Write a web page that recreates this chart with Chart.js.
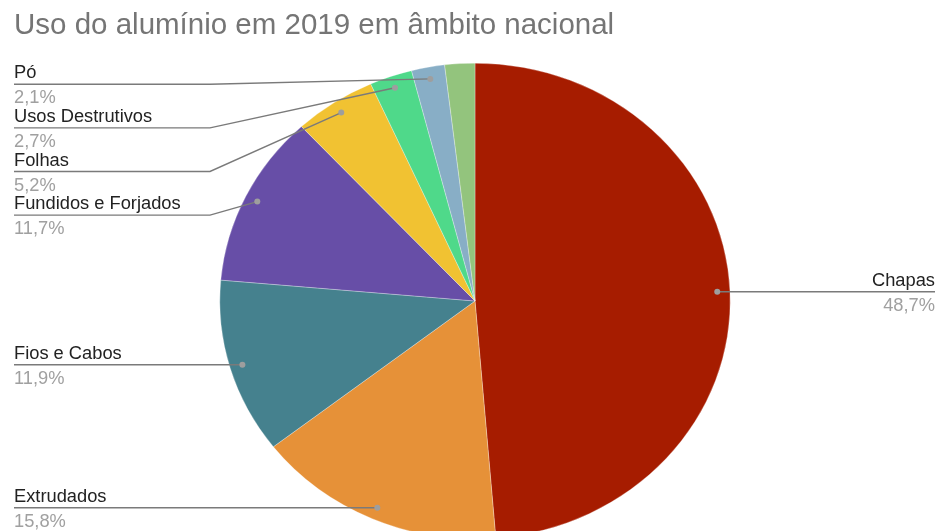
<!DOCTYPE html>
<html><head><meta charset="utf-8">
<script src="https://cdn.jsdelivr.net/npm/chart.js@4"></script>
<style>
html,body{margin:0;padding:0;background:#fff;overflow:hidden}
#wrap{position:relative;width:941px;height:531px;overflow:hidden;background:#fff}
canvas{display:block}
</style></head><body>
<div id="wrap"><canvas id="c" width="941" height="570" style="width:941px;height:570px"></canvas></div>
<script>
const chartTitle = 'Uso do alumínio em 2019 em âmbito nacional';
const categories = ['Chapas', 'Extrudados', 'Fios e Cabos', 'Fundidos e Forjados', 'Folhas', 'Usos Destrutivos', 'Pó', 'Outros'];
const values = [48.7, 15.8, 11.9, 11.7, 5.2, 2.7, 2.1, 1.9];
const colors = ['#a61c00', '#e69138', '#45818e', '#674ea7', '#f1c232', '#4fd98a', '#88aec6', '#93c47d'];
const showLabel = [true, true, true, true, true, true, true, false];

const SY = 0.932; // vertical squash of the pie (reference is elliptical)
const FONT = '"Liberation Sans", Arial, sans-serif';

const ellipsePlugin = {
  id: 'ellipse',
  beforeDatasetsDraw(chart) {
    const a = chart.getDatasetMeta(0).data[0];
    const ctx = chart.ctx;
    ctx.save();
    ctx.translate(0, a.y);
    ctx.scale(1, SY);
    ctx.translate(0, -a.y);
  },
  afterDatasetsDraw(chart) { chart.ctx.restore(); }
};

const titlePlugin = {
  id: 'customTitle',
  afterDraw(chart) {
    const ctx = chart.ctx;
    ctx.save();
    ctx.font = '29.5px ' + FONT;
    ctx.fillStyle = '#757575';
    ctx.textAlign = 'left';
    ctx.textBaseline = 'alphabetic';
    ctx.fillText(chartTitle, 14, 34);
    ctx.restore();
  }
};

const labelPlugin = {
  id: 'leaderLabels',
  afterDraw(chart) {
    const ctx = chart.ctx;
    const meta = chart.getDatasetMeta(0);
    const total = values.reduce((s, v) => s + v, 0);
    const items = meta.data.map((arc, i) => {
      const p = arc.getProps(['x', 'y', 'startAngle', 'endAngle', 'outerRadius'], true);
      const m = (p.startAngle + p.endAngle) / 2;
      return {
        i,
        side: Math.cos(m) >= 0 ? 'R' : 'L',
        dx: p.x + Math.cos(m) * p.outerRadius * 0.95,
        dy: p.y + Math.sin(m) * p.outerRadius * 0.95 * SY
      };
    }).filter(o => showLabel[o.i]);
    const GAP = 43.6, MINY = 84.3;
    ['L', 'R'].forEach(side => {
      const list = items.filter(o => o.side === side).sort((a, b) => a.dy - b.dy);
      let prev = -Infinity;
      list.forEach(o => { o.ly = Math.max(o.dy, prev + GAP, MINY); prev = o.ly; });
    });
    ctx.save();
    items.forEach(o => {
      const left = o.side === 'L';
      const tx = left ? 14 : 935;
      const bend = left ? 210 : 741;
      ctx.strokeStyle = '#7a7a7a';
      ctx.lineWidth = 1.4;
      ctx.beginPath();
      ctx.moveTo(tx, o.ly);
      ctx.lineTo(bend, o.ly);
      ctx.lineTo(o.dx, o.dy);
      ctx.stroke();
      ctx.fillStyle = '#9e9e9e';
      ctx.beginPath();
      ctx.arc(o.dx, o.dy, 3, 0, Math.PI * 2);
      ctx.fill();
      ctx.font = '18.3px ' + FONT;
      ctx.textAlign = left ? 'left' : 'right';
      ctx.textBaseline = 'alphabetic';
      ctx.fillStyle = '#222222';
      ctx.fillText(categories[o.i], tx, o.ly - 6);
      ctx.fillStyle = '#a0a0a0';
      const pct = (values[o.i] / total * 100).toFixed(1).replace('.', ',') + '%';
      ctx.fillText(pct, tx, o.ly + 19);
    });
    ctx.restore();
  }
};

new Chart(document.getElementById('c'), {
  type: 'pie',
  data: {
    labels: categories,
    datasets: [{
      data: values,
      backgroundColor: colors,
      borderWidth: 0.6,
      borderColor: 'rgba(255,255,255,0.5)'
    }]
  },
  options: {
    responsive: false,
    animation: false,
    devicePixelRatio: 1,
    layout: { padding: { left: 219.5, right: 210.5, top: 45.5, bottom: 13.5 } },
    plugins: {
      legend: { display: false },
      title: { display: false },
      tooltip: { enabled: false }
    }
  },
  plugins: [ellipsePlugin, titlePlugin, labelPlugin]
});
</script>
</body></html>
